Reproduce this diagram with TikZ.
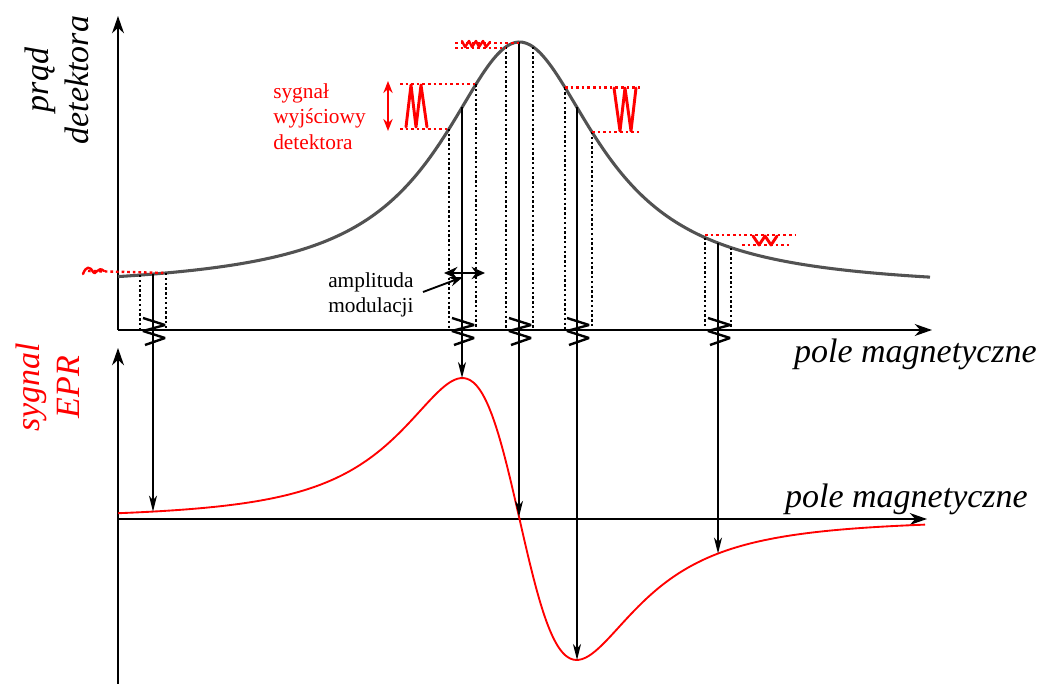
\documentclass[tikz,border=0pt]{standalone}
\usepackage{fontspec}
\setmainfont{Liberation Serif}
\usetikzlibrary{arrows.meta}
\begin{document}
\begin{tikzpicture}[x=0.75pt,y=-0.75pt,
  declare function={topc(\x)=290-248/(1+((\x-519.5)/96)^2);
                    epr(\x)=519+434.1*((\x-519.5)/99)/(1+((\x-519.5)/99)^2)^2;},
  axis/.style={line width=1.5pt,-{Stealth[length=13pt,width=9pt]}},
  varrow/.style={line width=1.2pt,-{Stealth[length=12pt,width=6pt,inset=3.5pt]}},
  zz/.style={line width=1.8pt,line join=miter,miter limit=3},
  vdot/.style={line width=1.5pt,dash pattern=on 1.8pt off 1.8pt},
  rdot/.style={red,line width=1.8pt,dash pattern=on 2pt off 2.2pt},
  rsig/.style={red,line width=2.2pt,line join=round,line cap=round},
  big/.style={font=\fontsize{25.5}{30}\selectfont\itshape},
  small/.style={font=\fontsize{16}{19}\selectfont}]
\useasboundingbox (0,0) rectangle (1041,684);
% axes
\draw[axis] (118,330) -- (118,16);
\draw[axis] (118,330) -- (932,330);
\draw[axis] (118,684) -- (118,348);
\draw[axis] (118,519) -- (927,519);
% curves
\draw[color=black!68,line width=2.3pt,domain=118:930,samples=220,smooth] plot (\x,{topc(\x)});
\draw[red,line width=1.4pt,domain=118:925,samples=260,smooth] plot (\x,{epr(\x)});
% dotted sample lines
\foreach \p in {140,166,449,476,506,533,565,592,705,731}{
  \draw[vdot] (\p,{topc(\p)}) -- (\p,330);
}
% vertical arrows with zigzags
\foreach \p in {153,462,519,577,718}{
  \coordinate (t\p) at (\p,{topc(\p)});
  \coordinate (b\p) at (\p,{epr(\p)});
  \draw[varrow] (t\p) -- (b\p);
  \draw[zz] (\p-10,318) -- (\p+12,325) -- (\p-10,331) -- (\p+12,338) -- (\p-8,345);
}
% red output signals
% at 153
\draw[rdot] (88,271) -- (166,{topc(166)});
\draw[rsig,line width=1.8pt] (83,274) .. controls (86,266) and (90,266) .. (93,272)
  .. controls (95,277) and (98,265) .. (104,271);
% at 462
\draw[rdot] (400,{topc(476)}) -- (476,{topc(476)});
\draw[rdot] (400,{topc(449)}) -- (449,{topc(449)});
\draw[rsig] (406,127) -- (411,85) -- (416,127) -- (421,85) -- (427,127);
\coordinate (ra1) at (388,81);
\coordinate (ra2) at (388,131);
\draw[red,line width=1.5pt,{Stealth[length=9pt,width=7pt]}-{Stealth[length=9pt,width=7pt]}] (ra1) -- (ra2);
% at 519
\draw[rdot] (455,43) -- (522,43);
\draw[rdot] (455,48) -- (506,48);
\draw[rsig,line width=1.8pt] (462,41) -- (465,47) -- (469,41) -- (472,47) -- (476,41) -- (479,47) -- (483,41) -- (486,47) -- (490,42);
% at 577
\draw[rdot] (565,{topc(565)}) -- (640,{topc(565)});
\draw[rdot] (592,{topc(592)}) -- (640,{topc(592)});
\draw[rsig] (614,88) -- (620,131) -- (625,88) -- (631,131) -- (636,88);
% at 718
\draw[rdot] (705,235) -- (795,235);
\draw[rdot] (742,245) -- (790,245);
\draw[rsig] (753,236) -- (759,245) -- (765,236) -- (771,245) -- (777,236);
% modulation amplitude
\coordinate (am1) at (444,273);
\coordinate (am2) at (485,273);
\draw[line width=2pt,{Stealth[length=10pt,width=9pt]}-{Stealth[length=10pt,width=9pt]}] (am1) -- (am2);
\node[small,anchor=base west,inner sep=0] (amp1) at (328,287) {amplituda};
\node[small,anchor=base west,inner sep=0] (amp2) at (328,312) {modulacji};
\coordinate (aa) at (463,277);
\draw[line width=1.4pt,-{Stealth[length=10pt,width=7pt]}] (423,292) -- (aa);
% red label
\node[small,red,anchor=base west,inner sep=0] (s1) at (273,99) {sygnał};
\node[small,red,anchor=base west,inner sep=0] (s2) at (273,124) {wyjściowy};
\node[small,red,anchor=base west,inner sep=0] (s3) at (273,150) {detektora};
% axis labels
\node[big,rotate=90,align=center,inner sep=0] (yl1) at (57,80) {prąd\\detektora};
\node[big,red,rotate=90,align=center,inner sep=0] (yl2) at (48,387) {sygnal\\EPR};
\node[big,anchor=base east,inner sep=0] (xl1) at (1037,362) {pole magnetyczne};
\node[big,anchor=base east,inner sep=0] (xl2) at (1028,507) {pole magnetyczne};
\end{tikzpicture}
\end{document}
